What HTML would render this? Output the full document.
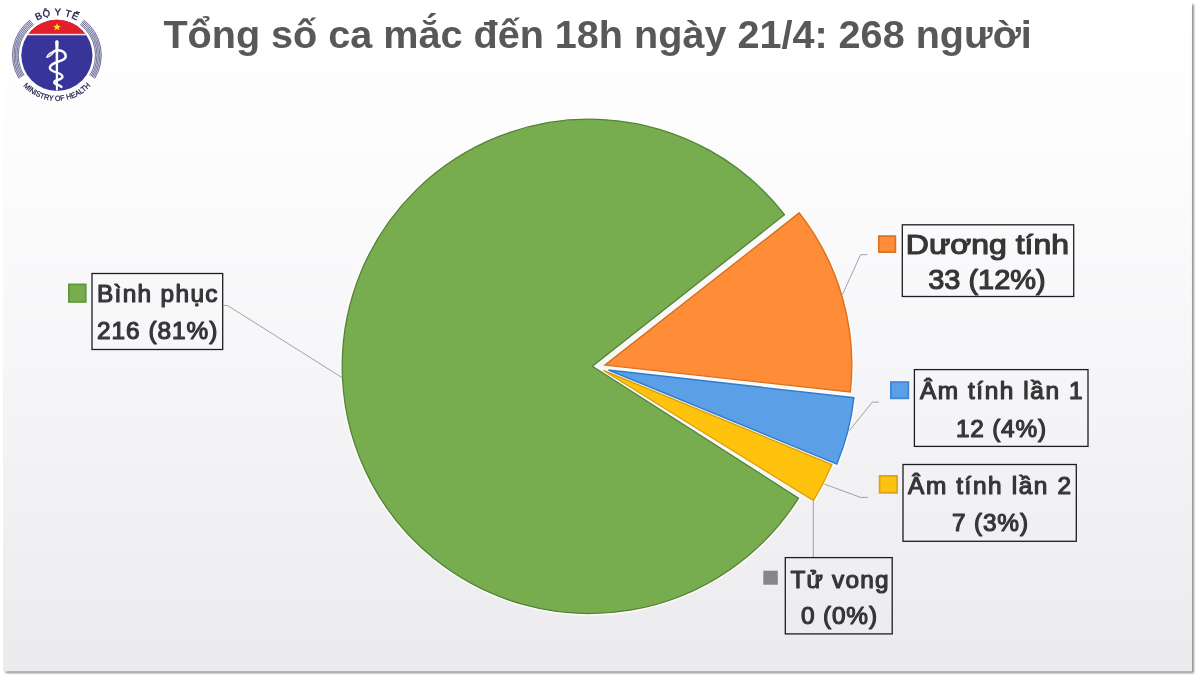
<!DOCTYPE html>
<html lang="vi">
<head>
<meta charset="utf-8">
<title>Tổng số ca mắc đến 18h ngày 21/4: 268 người</title>
<style>
html,body{margin:0;padding:0;background:#fff;width:1200px;height:680px;overflow:hidden}
svg{display:block;position:absolute;left:0;top:0}
text{font-family:"Liberation Sans",sans-serif}
.t{font-weight:bold;fill:#58585a}
.lb{font-weight:bold;fill:#3a3a3c}
.lc{font-weight:normal;fill:#363638;stroke:#363638;stroke-width:1.2;stroke-linejoin:round}
.lr{font-weight:normal;fill:#363638;stroke:#363638;stroke-width:1.2;stroke-linejoin:round}
.box{fill:none;stroke:#1e1e20;stroke-width:1.3}
.ld{fill:none;stroke:#a2a2a4;stroke-width:1}
</style>
</head>
<body>
<svg width="1200" height="680" viewBox="0 0 1200 680">
<defs>
<linearGradient id="bg" x1="0" y1="0" x2="0" y2="1">
<stop offset="0" stop-color="#ffffff"/>
<stop offset="0.2" stop-color="#fdfdfe"/>
<stop offset="0.5" stop-color="#f7f6f8"/>
<stop offset="0.8" stop-color="#f0eff1"/>
<stop offset="1" stop-color="#ebeaec"/>
</linearGradient>
<filter id="sh" x="-5%" y="-5%" width="110%" height="110%"><feGaussianBlur stdDeviation="1"/></filter>
</defs>
<!-- slide shadow + slide -->
<rect x="5.5" y="4.5" width="1188.3" height="668.6" fill="#89898b" filter="url(#sh)"/>
<rect x="3" y="-2" width="1188.8" height="673.2" fill="#ffffff"/>
<rect x="3" y="-2" width="1188.8" height="673.2" fill="url(#bg)"/>

<!-- title -->
<text class="t" x="163.4" y="48.2" font-size="37.9" textLength="868.4" lengthAdjust="spacingAndGlyphs">Tổng số ca mắc đến 18h ngày 21/4: 268 người</text>


<!-- pie -->
<g fill="none" stroke="#fdfdf9" stroke-width="4.5" stroke-linejoin="round" opacity="0.9">
<path d="M592.4,366.3 L798.5,498.1 A247.15,247.15 0 1 1 784.5,214.7 Z"/>
<path d="M604.80,365.10 L799.28,212.83 A247,247 0 0 1 850.32,392.07 Z"/>
<path d="M608.50,370.00 L853.94,397.74 A247,247 0 0 1 836.88,464.08 Z"/>
<path d="M603.50,370.50 L831.88,464.58 A247,247 0 0 1 813.44,500.62 Z"/>
</g>
<!-- leader lines -->
<polyline class="ld" points="223.5,305.5 227.5,305.5 342.7,378"/>
<polyline class="ld" points="842.4,294.7 860.6,254.7 867.3,254.7"/>
<polyline class="ld" points="849.4,430.6 872.4,402.1 878.8,402.1"/>
<polyline class="ld" points="824.5,484.1 860.6,497.4 868,497.4"/>
<polyline class="ld" points="813.3,500 813.3,557.6"/>
<g stroke-linejoin="miter">
<path d="M592.4,366.3 L798.5,498.1 A247.15,247.15 0 1 1 784.5,214.7 Z" fill="#77ac4f" stroke="#528338" stroke-width="1.3"/>
<path d="M604.80,365.10 L799.28,212.83 A247,247 0 0 1 850.32,392.07 Z" fill="#ff8c36" stroke="#d9701f" stroke-width="1.4"/>
<path d="M608.50,370.00 L853.94,397.74 A247,247 0 0 1 836.88,464.08 Z" fill="#5b9fe6" stroke="#2f7ccc" stroke-width="1.4"/>
<path d="M603.50,370.50 L831.88,464.58 A247,247 0 0 1 813.44,500.62 Z" fill="#ffc20d" stroke="#dba012" stroke-width="1.4"/>
</g>

<!-- label: Bình phục -->
<rect x="68.85" y="284.35" width="16.9" height="17.6" fill="#77ac4f" stroke="#5f963d" stroke-width="1.7"/>
<rect class="box" x="92" y="273.5" width="130.7" height="76"/>
<text class="lc" x="97.0" y="302" font-size="24.4" textLength="120.5" lengthAdjust="spacing">Bình phục</text>
<text class="lc" x="97.0" y="339.3" font-size="24.4" textLength="120.4" lengthAdjust="spacing">216 (81%)</text>

<!-- label: Dương tính -->
<rect x="878.8" y="236.1" width="16.6" height="16" fill="#ff8c36" stroke="#da7224" stroke-width="1.7"/>
<rect class="box" x="902.3" y="224.8" width="171.4" height="71.7"/>
<text class="lr" x="905.8" y="253.8" font-size="28" textLength="163.2" lengthAdjust="spacingAndGlyphs">Dương tính</text>
<text class="lr" x="928.2" y="288.6" font-size="28" textLength="117.6" lengthAdjust="spacingAndGlyphs">33 (12%)</text>

<!-- label: Âm tính lần 1 -->
<rect x="890.85" y="382.05" width="17.5" height="16.3" fill="#5b9fe6" stroke="#3f86d6" stroke-width="1.7"/>
<rect class="box" x="914.4" y="369.6" width="173.6" height="76.8"/>
<text class="lc" x="919.9" y="398.6" font-size="24.4" textLength="162.6" lengthAdjust="spacing">Âm tính lần 1</text>
<text class="lc" x="956.0" y="436.6" font-size="24.4" textLength="90.0" lengthAdjust="spacing">12 (4%)</text>

<!-- label: Âm tính lần 2 -->
<rect x="879.6" y="475.85" width="17.5" height="17" fill="#ffc20d" stroke="#dfa118" stroke-width="1.7"/>
<rect class="box" x="903" y="464.5" width="173.3" height="76.8"/>
<text class="lc" x="908.0" y="493.7" font-size="24.4" textLength="163.0" lengthAdjust="spacing">Âm tính lần 2</text>
<text class="lc" x="952.0" y="530.7" font-size="24.4" textLength="76.0" lengthAdjust="spacing">7 (3%)</text>

<!-- label: Tử vong -->
<rect x="763.3" y="570.7" width="14.5" height="14" fill="#87858a"/>
<rect class="box" x="785.3" y="557.6" width="106.9" height="76.3"/>
<text class="lc" x="790.5" y="587.8" font-size="24.4" textLength="98.0" lengthAdjust="spacing">Tử vong</text>
<text class="lc" x="801.0" y="624" font-size="24.4" textLength="76.0" lengthAdjust="spacing">0 (0%)</text>

<!-- LOGO -->
<g id="logo">
<defs><path id="tp" d="M22.26,35.30 A40.0,40.0 0 0 1 91.54,35.30" fill="none"/><path id="bp" d="M11.30,55.30 A45.6,45.6 0 0 0 102.50,55.30" fill="none"/></defs>
<g fill="none" stroke="#55557f" stroke-width="0.8">
<path d="M31.92,22.16 A41.5,41.5 0 0 0 21.52,76.98" stroke="#e0e0f3" stroke-width="6.4"/>
<path d="M81.88,22.16 A41.5,41.5 0 0 1 92.28,76.98" stroke="#e0e0f3" stroke-width="6.4"/>
<path d="M33.67,24.47 A38.6,38.6 0 0 0 23.99,75.47"/>
<path d="M80.13,24.47 A38.6,38.6 0 0 1 89.81,75.47"/>
<path d="M32.80,23.31 A40.05,40.05 0 0 0 22.75,76.23"/>
<path d="M81.00,23.31 A40.05,40.05 0 0 1 91.05,76.23"/>
<path d="M31.92,22.16 A41.5,41.5 0 0 0 21.52,76.98"/>
<path d="M81.88,22.16 A41.5,41.5 0 0 1 92.28,76.98"/>
<path d="M31.05,21.00 A42.95,42.95 0 0 0 20.28,77.74"/>
<path d="M82.75,21.00 A42.95,42.95 0 0 1 93.52,77.74"/>
<path d="M30.18,19.84 A44.4,44.4 0 0 0 19.04,78.50"/>
<path d="M83.62,19.84 A44.4,44.4 0 0 1 94.76,78.50"/>
</g>
<circle cx="56.9" cy="55.3" r="35.6" fill="#37359a"/>
<path d="M28.45,33.9 A35.6,35.6 0 0 1 85.35,33.9 Z" fill="#e1202c"/>
<rect x="27.95" y="33.8" width="57.90" height="1.5" fill="#f3dff0"/>
<polygon points="57.00,23.10 56.03,25.87 53.10,25.93 55.43,27.71 54.59,30.52 57.00,28.85 59.41,30.52 58.57,27.71 60.90,25.93 57.97,25.87" fill="#ffe11a"/>
<g fill="none" stroke="#ffffff" stroke-linecap="round" stroke-linejoin="round">
<path d="M55.1,42 C55.1,39.6 58.7,39.6 58.7,42 L58.2,52 L57.9,90.6 L55.9,90.6 L55.6,52 Z" fill="#ffffff" stroke="none"/>
<path d="M53.5,51.6 C58,49.2 65,50.2 65.7,56 C66.3,62 50.2,61.5 49.9,67.6 C49.7,73 62.2,71.8 62.4,76.6 C62.6,80.4 54.6,79.2 54.3,82.3 C54.1,84.6 59,84.4 61.4,86.8" stroke-width="2.5"/>
</g>
<path d="M46,58 C46.8,54 50.5,51 54.6,51 C53.6,54.6 50.2,57.4 46,58 Z" fill="#ffffff"/>
<path d="M48.3,56 L51.6,53.4" stroke="#37359a" stroke-width="0.7" fill="none"/>
<text font-size="9.6" fill="#23234a" stroke="#23234a" stroke-width="0.35" text-anchor="middle"><textPath href="#tp" startOffset="50%" textLength="41" lengthAdjust="spacing">BỘ Y TẾ</textPath></text>
<text font-size="7.6" fill="#23234a" stroke="#23234a" stroke-width="0.25" text-anchor="middle"><textPath href="#bp" startOffset="50%" textLength="76" lengthAdjust="spacingAndGlyphs">MINISTRY OF HEALTH</textPath></text>
</g>
</svg>
</body>
</html>
